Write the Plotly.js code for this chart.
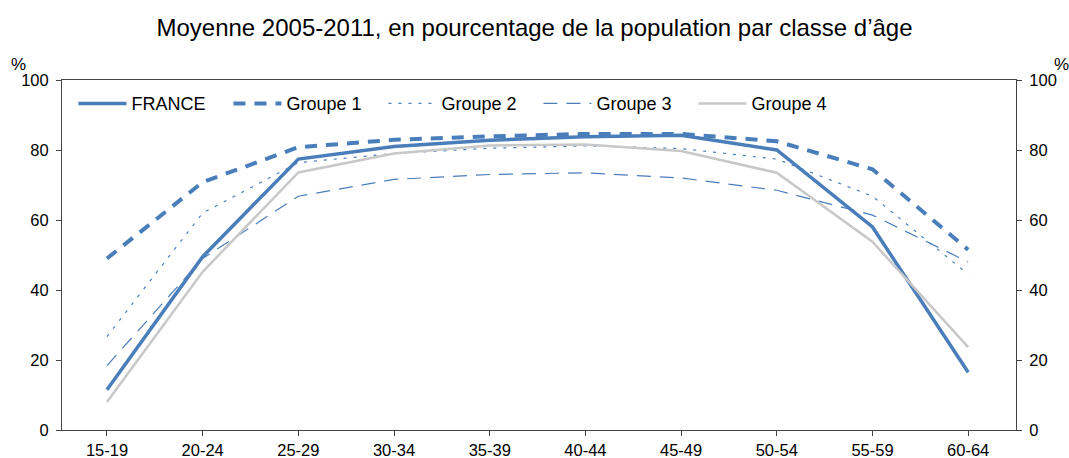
<!DOCTYPE html>
<html><head><meta charset="utf-8">
<script src="https://cdn.plot.ly/plotly-3.0.1.min.js"></script>
<style>body{margin:0;background:#fff}#c{width:1069px;height:458px}</style>
</head><body><div id="c"></div>
<script>
const categories = ["15-19","20-24","25-29","30-34","35-39","40-44","45-49","50-54","55-59","60-64"];
const france  = [11.5, 49.5, 77.4, 81.0, 82.8, 83.8, 84.2, 80.0, 58.0, 16.5];
const groupe1 = [49.0, 70.8, 80.8, 82.9, 83.9, 84.6, 84.6, 82.5, 74.5, 51.5];
const groupe2 = [26.7, 62.0, 76.4, 79.0, 80.5, 81.2, 80.4, 77.4, 66.8, 44.5];
const groupe3 = [18.4, 49.0, 66.8, 71.6, 73.0, 73.5, 72.0, 68.5, 61.4, 48.0];
const groupe4 = [8.0, 45.2, 73.6, 79.0, 81.3, 81.6, 79.7, 73.5, 53.8, 23.7];
const blue = '#4a7ebb', gray = '#c8c8c8';
const traces = [
  {name:'FRANCE', y:france, line:{color:blue,width:3.5}},
  {name:'Groupe 1', y:groupe1, line:{color:blue,width:4,dash:'12px,9px'}},
  {name:'Groupe 2', y:groupe2, line:{color:blue,width:1.2,dash:'3px,7px'}},
  {name:'Groupe 3', y:groupe3, line:{color:blue,width:1.2,dash:'14px,9px'}},
  {name:'Groupe 4', y:groupe4, line:{color:gray,width:2.5}}
].map(t=>Object.assign({x:categories, type:'scatter', mode:'lines', hoverinfo:'skip'}, t));
traces.push({x:categories, y:france, yaxis:'y2', type:'scatter', mode:'lines', opacity:0, showlegend:false, hoverinfo:'skip'});
const font = {family:'Liberation Sans, Arial, sans-serif', color:'#000'};
const f = s => Object.assign({size:s}, font);
const axisCommon = {showline:true, linecolor:'#444', linewidth:1, ticks:'outside', ticklen:5, tickcolor:'#444', showgrid:false, zeroline:false, tickfont:f(16.5), fixedrange:true};
const layout = {
  width:1069, height:458,
  margin:{l:62, r:53, t:80, b:28},
  paper_bgcolor:'#fff', plot_bgcolor:'#fff',
  font:f(16.5),
  title:{text:'Moyenne 2005-2011, en pourcentage de la population par classe d’âge', font:f(24), x:0.5, xanchor:'center', y:0.94, yanchor:'middle'},
  showlegend:true,
  legend:{orientation:'h', x:0.012, y:0.985, xanchor:'left', yanchor:'top', bgcolor:'rgba(0,0,0,0)', font:f(18), entrywidth:92, entrywidthmode:'pixels', itemwidth:48},
  xaxis:Object.assign({type:'category', range:[-0.47, 9.5], mirror:true}, axisCommon),
  yaxis:Object.assign({range:[0,100], dtick:20, ticklabelstandoff:4}, axisCommon),
  yaxis2:Object.assign({range:[0,100], dtick:20, overlaying:'y', side:'right', ticklabelstandoff:4}, axisCommon),
  annotations:[
    {text:'%', xref:'paper', yref:'paper', x:-0.046, y:1.045, xanchor:'center', yanchor:'middle', showarrow:false, font:f(17)},
    {text:'%', xref:'paper', yref:'paper', x:1.048, y:1.045, xanchor:'center', yanchor:'middle', showarrow:false, font:f(17)}
  ]
};
Plotly.newPlot('c', traces, layout, {staticPlot:true, displayModeBar:false});
</script></body></html>
